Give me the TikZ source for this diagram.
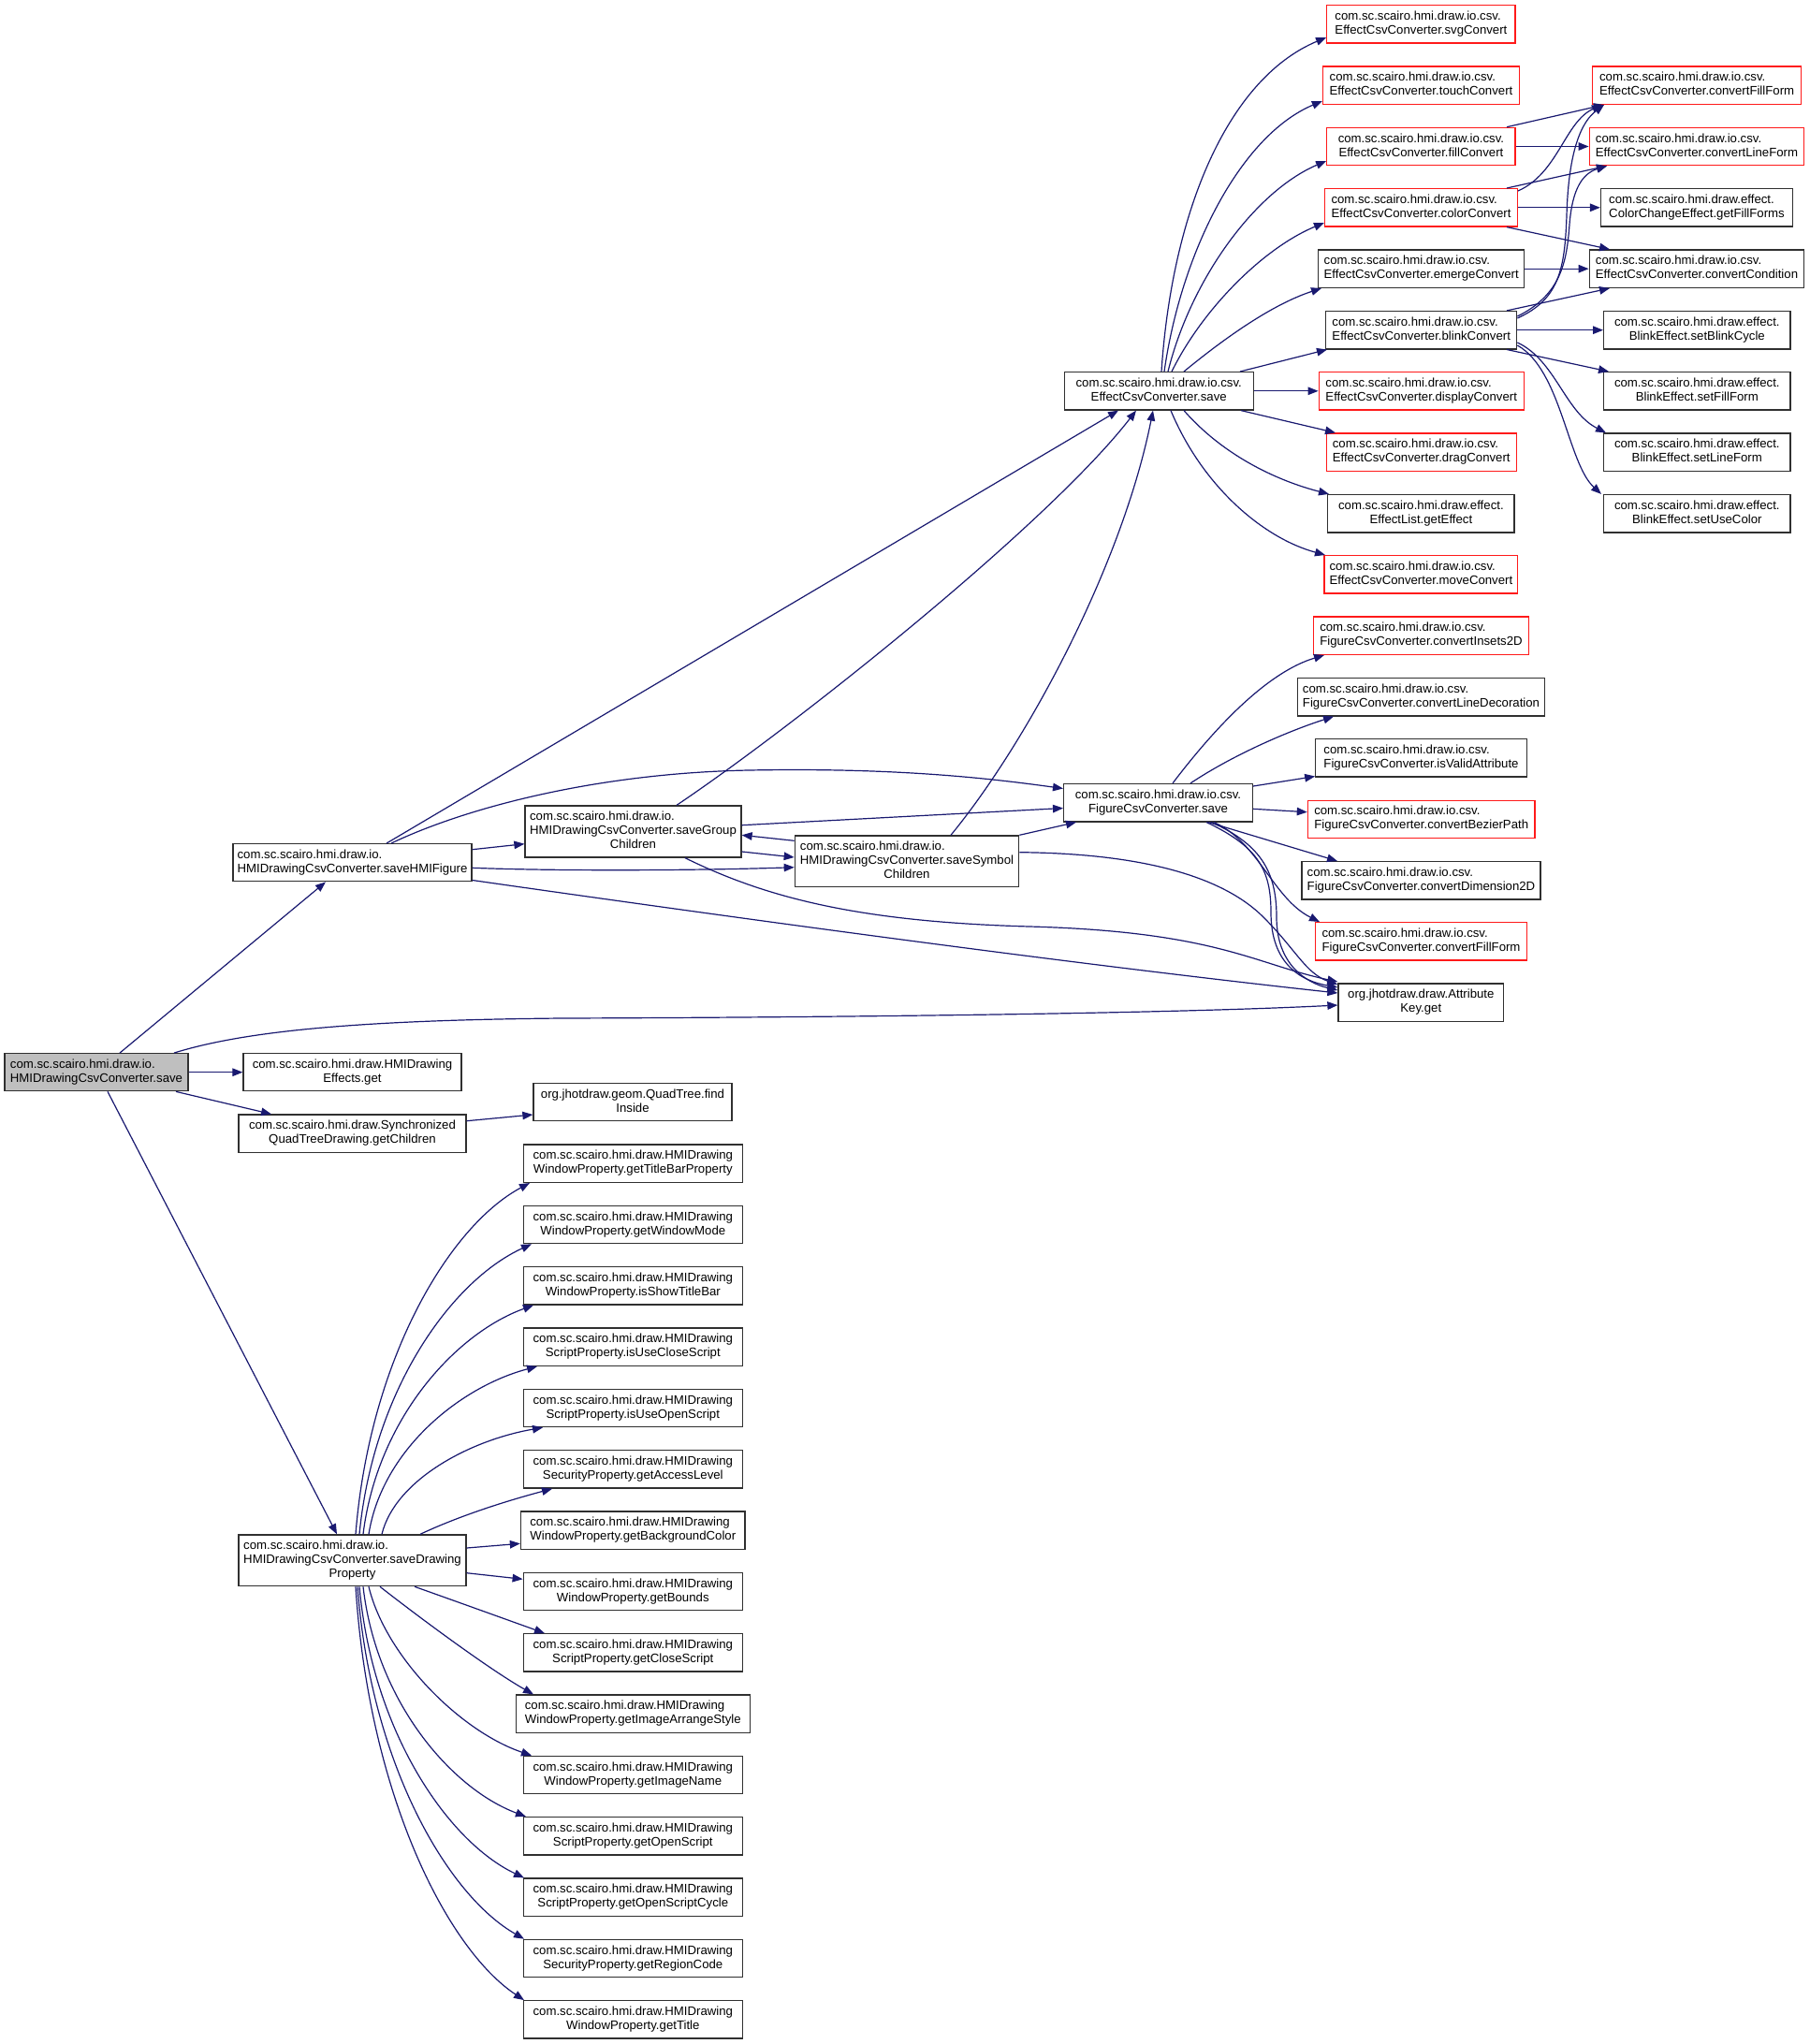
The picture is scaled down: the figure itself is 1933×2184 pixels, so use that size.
\documentclass[tikz,border=0pt]{standalone}
\usepackage{fontspec}
\setmainfont{Liberation Sans}
\usetikzlibrary{arrows.meta}
\definecolor{edgeblue}{HTML}{191970}
\definecolor{rootgray}{HTML}{BFBFBF}
\definecolor{boxline}{HTML}{303030}
\definecolor{boxred}{HTML}{FF1A1A}
\newcommand\lbfont{\fontsize{13.2}{15}\selectfont}
% first line left-justified, following lines centred
\newcommand\twol[2]{\begin{tabular}{@{}c@{}}\multicolumn{1}{@{}l@{}}{#1}\\#2\end{tabular}}
\tikzset{
  fn/.style={draw=boxline, line width=1.3pt, fill=white, inner sep=0pt, rectangle, font=\lbfont},
  rn/.style={fn, draw=boxred},
  rootbox/.style={fn, fill=rootgray},
  e/.style={draw=edgeblue, line width=1.2pt, -{Triangle[length=11pt,width=8.5pt]}},
}
\begin{document}
\begin{tikzpicture}[x=1pt,y=-1pt]
\fill[white] (0,0) rectangle (1933,2184);
\useasboundingbox (0,0) rectangle (1933,2184);

% ---------- left part ----------
\node[rootbox, minimum width=196, minimum height=40] (root) at (103,1145.7)
  {\twol{com.sc.scairo.hmi.draw.io.}{HMIDrawingCsvConverter.save}};
\node[fn, minimum width=255, minimum height=40] (hfig) at (376.5,921.7)
  {\twol{com.sc.scairo.hmi.draw.io.}{HMIDrawingCsvConverter.saveHMIFigure}};
\node[fn, minimum width=231, minimum height=55] (hgrp) at (676.5,888.5)
  {\twol{com.sc.scairo.hmi.draw.io.}{HMIDrawingCsvConverter.saveGroup\\Children}};
\node[fn, minimum width=239.4, minimum height=54.7] (hsym) at (969,920.3)
  {\twol{com.sc.scairo.hmi.draw.io.}{HMIDrawingCsvConverter.saveSymbol\\Children}};
\node[fn, minimum width=233, minimum height=40] (effget) at (376.5,1145.7)
  {\twol{com.sc.scairo.hmi.draw.HMIDrawing}{Effects.get}};
\node[fn, minimum width=243, minimum height=40.3] (qchild) at (376.5,1211.2)
  {\twol{com.sc.scairo.hmi.draw.Synchronized}{QuadTreeDrawing.getChildren}};
\node[fn, minimum width=212, minimum height=40] (qfind) at (676,1177.7)
  {\twol{org.jhotdraw.geom.QuadTree.find}{Inside}};
\node[fn, minimum width=243, minimum height=54.7] (hprop) at (376.5,1667.3)
  {\twol{com.sc.scairo.hmi.draw.io.}{HMIDrawingCsvConverter.saveDrawing\\Property}};

% ---------- EffectCsvConverter ----------
\node[fn, minimum width=202, minimum height=40.3] (esave) at (1238.2,417.8)
  {\twol{com.sc.scairo.hmi.draw.io.csv.}{EffectCsvConverter.save}};
\node[rn, minimum width=201.3, minimum height=40.3] (svg) at (1518.4,25.8)
  {\twol{com.sc.scairo.hmi.draw.io.csv.}{EffectCsvConverter.svgConvert}};
\node[rn, minimum width=210, minimum height=40.3] (touch) at (1518.5,91.2)
  {\twol{com.sc.scairo.hmi.draw.io.csv.}{EffectCsvConverter.touchConvert}};
\node[rn, minimum width=201.3, minimum height=40.3] (fill) at (1518.4,156.5)
  {\twol{com.sc.scairo.hmi.draw.io.csv.}{EffectCsvConverter.fillConvert}};
\node[rn, minimum width=205.7, minimum height=40.3] (color) at (1518.5,221.8)
  {\twol{com.sc.scairo.hmi.draw.io.csv.}{EffectCsvConverter.colorConvert}};
\node[fn, minimum width=220, minimum height=40.3] (emerge) at (1518.7,287.2)
  {\twol{com.sc.scairo.hmi.draw.io.csv.}{EffectCsvConverter.emergeConvert}};
\node[fn, minimum width=204, minimum height=40.3] (blink) at (1518.7,352.7)
  {\twol{com.sc.scairo.hmi.draw.io.csv.}{EffectCsvConverter.blinkConvert}};
\node[rn, minimum width=219, minimum height=40.3] (display) at (1518.7,417.8)
  {\twol{com.sc.scairo.hmi.draw.io.csv.}{EffectCsvConverter.displayConvert}};
\node[rn, minimum width=203, minimum height=40.3] (drag) at (1518.7,483.2)
  {\twol{com.sc.scairo.hmi.draw.io.csv.}{EffectCsvConverter.dragConvert}};
\node[fn, minimum width=199.2, minimum height=40.3] (geteff) at (1518.4,548.7)
  {\twol{com.sc.scairo.hmi.draw.effect.}{EffectList.getEffect}};
\node[rn, minimum width=206.8, minimum height=40.3] (move) at (1518.4,613.8)
  {\twol{com.sc.scairo.hmi.draw.io.csv.}{EffectCsvConverter.moveConvert}};

\node[rn, minimum width=223.2, minimum height=40.3] (cfill) at (1813.1,91.2)
  {\twol{com.sc.scairo.hmi.draw.io.csv.}{EffectCsvConverter.convertFillForm}};
\node[rn, minimum width=229.5, minimum height=40.3] (cline) at (1813,156.5)
  {\twol{com.sc.scairo.hmi.draw.io.csv.}{EffectCsvConverter.convertLineForm}};
\node[fn, minimum width=205, minimum height=40.3] (getff) at (1813,221.8)
  {\twol{com.sc.scairo.hmi.draw.effect.}{ColorChangeEffect.getFillForms}};
\node[fn, minimum width=229.5, minimum height=40.3] (ccond) at (1813,287.2)
  {\twol{com.sc.scairo.hmi.draw.io.csv.}{EffectCsvConverter.convertCondition}};
\node[fn, minimum width=199.3, minimum height=40.3] (setbc) at (1813.3,352.7)
  {\twol{com.sc.scairo.hmi.draw.effect.}{BlinkEffect.setBlinkCycle}};
\node[fn, minimum width=199.3, minimum height=40.3] (setff) at (1813.3,417.8)
  {\twol{com.sc.scairo.hmi.draw.effect.}{BlinkEffect.setFillForm}};
\node[fn, minimum width=199.3, minimum height=40.3] (setlf) at (1813.3,483.2)
  {\twol{com.sc.scairo.hmi.draw.effect.}{BlinkEffect.setLineForm}};
\node[fn, minimum width=199.3, minimum height=40.3] (setuc) at (1813.3,548.7)
  {\twol{com.sc.scairo.hmi.draw.effect.}{BlinkEffect.setUseColor}};

% ---------- FigureCsvConverter ----------
\node[fn, minimum width=201.7, minimum height=40.3] (fsave) at (1237.5,857.7)
  {\twol{com.sc.scairo.hmi.draw.io.csv.}{FigureCsvConverter.save}};
\node[rn, minimum width=230, minimum height=40.3] (ins) at (1518.5,679.2)
  {\twol{com.sc.scairo.hmi.draw.io.csv.}{FigureCsvConverter.convertInsets2D}};
\node[fn, minimum width=264.4, minimum height=40.3] (ldec) at (1518.5,744.8)
  {\twol{com.sc.scairo.hmi.draw.io.csv.}{FigureCsvConverter.convertLineDecoration}};
\node[fn, minimum width=225.4, minimum height=40.3] (isva) at (1518.5,809.8)
  {\twol{com.sc.scairo.hmi.draw.io.csv.}{FigureCsvConverter.isValidAttribute}};
\node[rn, minimum width=242.6, minimum height=40.3] (bez) at (1518.7,875.3)
  {\twol{com.sc.scairo.hmi.draw.io.csv.}{FigureCsvConverter.convertBezierPath}};
\node[fn, minimum width=255, minimum height=40.3] (dim) at (1518.5,940.8)
  {\twol{com.sc.scairo.hmi.draw.io.csv.}{FigureCsvConverter.convertDimension2D}};
\node[rn, minimum width=225.4, minimum height=40.3] (ffill) at (1518.5,1005.8)
  {\twol{com.sc.scairo.hmi.draw.io.csv.}{FigureCsvConverter.convertFillForm}};
\node[fn, minimum width=176.6, minimum height=40.3] (akey) at (1518.3,1071.2)
  {\twol{org.jhotdraw.draw.Attribute}{Key.get}};

% ---------- drawing property getters ----------
\node[fn, minimum width=234.1, minimum height=40.3] (p0) at (676.3,1243.2)
  {\twol{com.sc.scairo.hmi.draw.HMIDrawing}{WindowProperty.getTitleBarProperty}};
\node[fn, minimum width=234.1, minimum height=40.3] (p1) at (676.3,1308.5)
  {\twol{com.sc.scairo.hmi.draw.HMIDrawing}{WindowProperty.getWindowMode}};
\node[fn, minimum width=234.1, minimum height=40.3] (p2) at (676.3,1373.8)
  {\twol{com.sc.scairo.hmi.draw.HMIDrawing}{WindowProperty.isShowTitleBar}};
\node[fn, minimum width=234.1, minimum height=40.3] (p3) at (676.3,1439.2)
  {\twol{com.sc.scairo.hmi.draw.HMIDrawing}{ScriptProperty.isUseCloseScript}};
\node[fn, minimum width=234.1, minimum height=40.3] (p4) at (676.3,1504.5)
  {\twol{com.sc.scairo.hmi.draw.HMIDrawing}{ScriptProperty.isUseOpenScript}};
\node[fn, minimum width=234.1, minimum height=40.3] (p5) at (676.3,1569.9)
  {\twol{com.sc.scairo.hmi.draw.HMIDrawing}{SecurityProperty.getAccessLevel}};
\node[fn, minimum width=239.6, minimum height=40.3] (p6) at (676.3,1635.2)
  {\twol{com.sc.scairo.hmi.draw.HMIDrawing}{WindowProperty.getBackgroundColor}};
\node[fn, minimum width=234.1, minimum height=40.3] (p7) at (676.3,1700.5)
  {\twol{com.sc.scairo.hmi.draw.HMIDrawing}{WindowProperty.getBounds}};
\node[fn, minimum width=234.1, minimum height=40.3] (p8) at (676.3,1765.9)
  {\twol{com.sc.scairo.hmi.draw.HMIDrawing}{ScriptProperty.getCloseScript}};
\node[fn, minimum width=250, minimum height=40.3] (p9) at (676.3,1831.2)
  {\twol{com.sc.scairo.hmi.draw.HMIDrawing}{WindowProperty.getImageArrangeStyle}};
\node[fn, minimum width=234.1, minimum height=40.3] (p10) at (676.3,1896.5)
  {\twol{com.sc.scairo.hmi.draw.HMIDrawing}{WindowProperty.getImageName}};
\node[fn, minimum width=234.1, minimum height=40.3] (p11) at (676.3,1961.8)
  {\twol{com.sc.scairo.hmi.draw.HMIDrawing}{ScriptProperty.getOpenScript}};
\node[fn, minimum width=234.1, minimum height=40.3] (p12) at (676.3,2027.2)
  {\twol{com.sc.scairo.hmi.draw.HMIDrawing}{ScriptProperty.getOpenScriptCycle}};
\node[fn, minimum width=234.1, minimum height=40.3] (p13) at (676.3,2092.5)
  {\twol{com.sc.scairo.hmi.draw.HMIDrawing}{SecurityProperty.getRegionCode}};
\node[fn, minimum width=234.1, minimum height=40.3] (p14) at (676.3,2157.9)
  {\twol{com.sc.scairo.hmi.draw.HMIDrawing}{WindowProperty.getTitle}};

% ---------- calls from save ----------
\draw[e] (128,0 |- root.north) -- (348,0 |- hfig.south);
\draw[e] (186,0 |- root.north) .. controls (260,1102) and (380,1090) .. (600,1088)
  .. controls (900,1087) and (1250,1083) .. (akey.west |- 0,1074);
\draw[e] (root.east) -- (effget.west);
\draw[e] (188,0 |- root.south) -- (290,0 |- qchild.north);
\draw[e] (115,0 |- root.south) -- (360,0 |- hprop.north);

% ---------- calls from saveHMIFigure ----------
\draw[e] (413,0 |- hfig.north) -- (1195,0 |- esave.south);
\draw[e] (hfig.east |- 0,907.7) -- (hgrp.west |- 0,901.7);
\draw[e] (418,0 |- hfig.north) .. controls (500,862) and (640,826) .. (800,823)
  .. controls (960,820) and (1060,832) .. (fsave.west |- 0,842.5);
\draw[e] (hfig.east |- 0,927.3) .. controls (600,931) and (750,930) .. (hsym.west |- 0,926.7);
\draw[e] (hfig.east |- 0,940.5) .. controls (900,997) and (1200,1036) .. (akey.west |- 0,1061);

% ---------- calls from saveGroupChildren ----------
\draw[e] (723,0 |- hgrp.north) .. controls (850,775) and (1120,560) .. (1214,0 |- esave.south);
\draw[e] (hgrp.east |- 0,881.7) -- (fsave.west |- 0,863.5);
\draw[e] (hgrp.east |- 0,910) -- (hsym.west |- 0,916);
\draw[e] (732,0 |- hgrp.south) .. controls (820,960) and (920,985) .. (1100,990)
  .. controls (1300,995.5) and (1340,1030) .. (akey.west |- 0,1049);

% ---------- calls from saveSymbolChildren ----------
\draw[e] (hsym.west |- 0,898.3) -- (hgrp.east |- 0,892.3);
\draw[e] (1016,0 |- hsym.north) .. controls (1100,790) and (1200,600) .. (1232,0 |- esave.south);
\draw[e] (hsym.north east) -- (1150,0 |- fsave.south);
\draw[e] (hsym.east |- 0,910.7) .. controls (1230,912) and (1310,940) .. (1350,980)
  .. controls (1385,1015) and (1395,1040) .. (akey.west |- 0,1052);

% ---------- calls from FigureCsvConverter.save ----------
\draw[e] (1253,0 |- fsave.north) .. controls (1300,775) and (1355,718) .. (1415,0 |- ins.south);
\draw[e] (1272,0 |- fsave.north) .. controls (1320,805) and (1380,780) .. (1425,0 |- ldec.south);
\draw[e] (fsave.east |- 0,840) -- (isva.west |- 0,829.5);
\draw[e] (fsave.east |- 0,864.3) -- (bez.west |- 0,867.7);
\draw[e] (1291,0 |- fsave.south) -- (1429,0 |- dim.north);
\draw[e] (1297,0 |- fsave.south) .. controls (1345,900) and (1360,960) .. (1410,0 |- ffill.north);
\draw[e] (1289,0 |- fsave.south) .. controls (1345,905) and (1358,930) .. (1358,975)
  .. controls (1358,1030) and (1390,1048) .. (akey.west |- 0,1055);
\draw[e] (1294,0 |- fsave.south) .. controls (1350,903) and (1364,935) .. (1364,980)
  .. controls (1364,1030) and (1395,1050) .. (akey.west |- 0,1058);

% ---------- calls from EffectCsvConverter.save ----------
\draw[e] (1241,0 |- esave.north) .. controls (1252,230) and (1310,85) .. (svg.west |- 0,40);
\draw[e] (1244,0 |- esave.north) .. controls (1262,270) and (1325,145) .. (touch.west |- 0,108);
\draw[e] (1248,0 |- esave.north) .. controls (1272,300) and (1340,205) .. (fill.west |- 0,172);
\draw[e] (1252,0 |- esave.north) .. controls (1285,330) and (1350,265) .. (color.west |- 0,238);
\draw[e] (1265,0 |- esave.north) .. controls (1310,360) and (1360,325) .. (1412,0 |- emerge.south);
\draw[e] (1325,0 |- esave.north) -- (1418,0 |- blink.south);
\draw[e] (esave.east) -- (display.west);
\draw[e] (1326,0 |- esave.south) -- (1427,0 |- drag.north);
\draw[e] (1265,0 |- esave.south) .. controls (1310,490) and (1370,515) .. (1420,0 |- geteff.north);
\draw[e] (1251,0 |- esave.south) .. controls (1285,520) and (1350,575) .. (1416,0 |- move.north);

% ---------- calls between the converters ----------
\draw[e] (1610,0 |- fill.north) -- (1714,0 |- cfill.south);
\draw[e] (fill.east) -- (cline.west);
\draw[e] (color.east |- 0,204) .. controls (1665,185) and (1672,130) .. (1712,0 |- cfill.south);
\draw[e] (1610,0 |- color.north) -- (1717,0 |- cline.south);
\draw[e] (color.east) -- (getff.west);
\draw[e] (1610,0 |- color.south) -- (1720,0 |- ccond.north);
\draw[e] (emerge.east) -- (ccond.west);
\draw[e] (1610,0 |- blink.north) -- (1720,0 |- ccond.south);
\draw[e] (blink.east |- 0,340) .. controls (1665,320) and (1672,290) .. (1674,230)
  .. controls (1676,160) and (1690,130) .. (1714,0 |- cfill.south);
\draw[e] (blink.east |- 0,338) .. controls (1668,315) and (1674,280) .. (1677,240)
  .. controls (1680,200) and (1692,185) .. (1717,0 |- cline.south);
\draw[e] (blink.east) -- (setbc.west);
\draw[e] (1610,0 |- blink.south) -- (1719,0 |- setff.north);
\draw[e] (blink.east |- 0,366) .. controls (1662,385) and (1672,440) .. (1716,0 |- setlf.north);
\draw[e] (blink.east |- 0,369) .. controls (1668,395) and (1675,495) .. (1711,0 |- setuc.north);

% ---------- quad tree ----------
\draw[e] (qchild.east |- 0,1197.7) -- (qfind.west |- 0,1191);

% ---------- calls from saveDrawingProperty ----------
\draw[e] (380,0 |- hprop.north) .. controls (395,1452) and (480,1310) .. (566,0 |- p0.south);
\draw[e] (384,0 |- hprop.north) .. controls (399,1484) and (483,1368) .. (568,0 |- p1.south);
\draw[e] (388,0 |- hprop.north) .. controls (403,1517) and (486,1425) .. (570,0 |- p2.south);
\draw[e] (394,0 |- hprop.north) .. controls (408,1550) and (491,1482) .. (574,0 |- p3.south);
\draw[e] (408,0 |- hprop.north) .. controls (422,1582) and (501,1539) .. (580,0 |- p4.south);
\draw[e] (449,0 |- hprop.north) .. controls (490,1620) and (540,1604) .. (590,0 |- p5.south);
\draw[e] (hprop.east |- 0,1654) -- (p6.west |- 0,1649.3);
\draw[e] (hprop.east |- 0,1680.7) -- (p7.west |- 0,1687.3);
\draw[e] (443,0 |- hprop.south) .. controls (490,1712) and (540,1730) .. (582,0 |- p8.north);
\draw[e] (406,0 |- hprop.south) .. controls (440,1722) and (520,1782) .. (570,0 |- p9.north);
\draw[e] (394,0 |- hprop.south) .. controls (412,1770) and (492,1850) .. (568,0 |- p10.north);
\draw[e] (388,0 |- hprop.south) .. controls (402,1818) and (482,1911) .. (562,0 |- p11.north);
\draw[e] (384,0 |- hprop.south) .. controls (398,1851) and (479,1968) .. (560,0 |- p12.north);
\draw[e] (382,0 |- hprop.south) .. controls (396,1884) and (478,2025) .. (560,0 |- p13.north);
\draw[e] (380,0 |- hprop.south) .. controls (394,1916) and (477,2082) .. (560,0 |- p14.north);
\end{tikzpicture}
\end{document}
